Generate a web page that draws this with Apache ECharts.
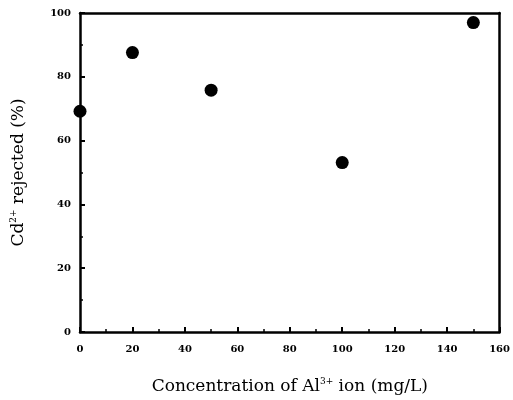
<!DOCTYPE html>
<html>
<head>
<meta charset="utf-8">
<script src="https://cdn.jsdelivr.net/npm/echarts@6/dist/echarts.min.js"></script>
<style>
html, body { margin: 0; padding: 0; background: #fff; }
#mychart { width: 513px; height: 400px; }
</style>
</head>
<body>
<div id="mychart"></div>
<script>
"use strict";
const alConc = [0, 20, 50, 100, 150];
const cdRejected = [69.2, 87.6, 75.8, 53.1, 97.0];

const container = document.getElementById('mychart');
const myChart = echarts.init(container);
const serif = '"DejaVu Serif", "Liberation Serif", serif';
const tickLabel = {
    fontFamily: serif,
    fontWeight: 'bold',
    fontSize: 10,
    color: '#000'
};
const titleRich = {
    t: { fontFamily: serif, fontSize: 17, color: '#000' },
    s: { fontFamily: serif, fontSize: 9, color: '#000', verticalAlign: 'top', padding: [0, 0, 10, 0] }
};
const frame = { color: '#000', width: 2.5 };
const option = {
    animation: false,
    grid: {
        left: 80,
        right: 13,
        top: 13,
        bottom: 63
    },
    xAxis: [
        {
            type: 'value',
            min: 0,
            max: 160,
            interval: 20,
            name: '{t|Concentration of Al}{s|3+}{t| ion (mg/L)}',
            nameLocation: 'middle',
            nameGap: 45,
            nameTextStyle: { rich: titleRich },
            axisLine: { lineStyle: frame },
            axisTick: { inside: true, length: 5, lineStyle: { color: '#000', width: 2 } },
            minorTick: { show: true, splitNumber: 2, length: 3, lineStyle: { color: '#000', width: 1.5 } },
            axisLabel: Object.assign({ margin: 12 }, tickLabel),
            splitLine: { show: false }
        },
        {
            // top edge of the frame
            type: 'value', position: 'top', min: 0, max: 160,
            axisLine: { show: true, onZero: false, lineStyle: frame },
            axisTick: { show: false }, axisLabel: { show: false }, splitLine: { show: false }
        }
    ],
    yAxis: [
        {
            type: 'value',
            min: 0,
            max: 100,
            interval: 20,
            name: '{t|Cd}{s|2+}{t| rejected (%)}',
            nameLocation: 'middle',
            nameRotate: 90,
            nameGap: 52,
            nameTextStyle: { rich: titleRich },
            axisLine: { lineStyle: frame },
            axisTick: { inside: true, length: 5, lineStyle: { color: '#000', width: 2 } },
            minorTick: { show: true, splitNumber: 2, length: 3, lineStyle: { color: '#000', width: 1.5 } },
            axisLabel: Object.assign({ margin: 9 }, tickLabel),
            splitLine: { show: false }
        },
        {
            // right edge of the frame
            type: 'value', position: 'right', min: 0, max: 100,
            axisLine: { show: true, onZero: false, lineStyle: frame },
            axisTick: { show: false }, axisLabel: { show: false }, splitLine: { show: false }
        }
    ],
    series: [
        {
            type: 'scatter',
            data: alConc.map((x, i) => [x, cdRejected[i]]),
            symbol: 'circle',
            symbolSize: 13,
            itemStyle: { color: '#000', opacity: 1 }
        }
    ]
};
myChart.setOption(option);
</script>
</body>
</html>
